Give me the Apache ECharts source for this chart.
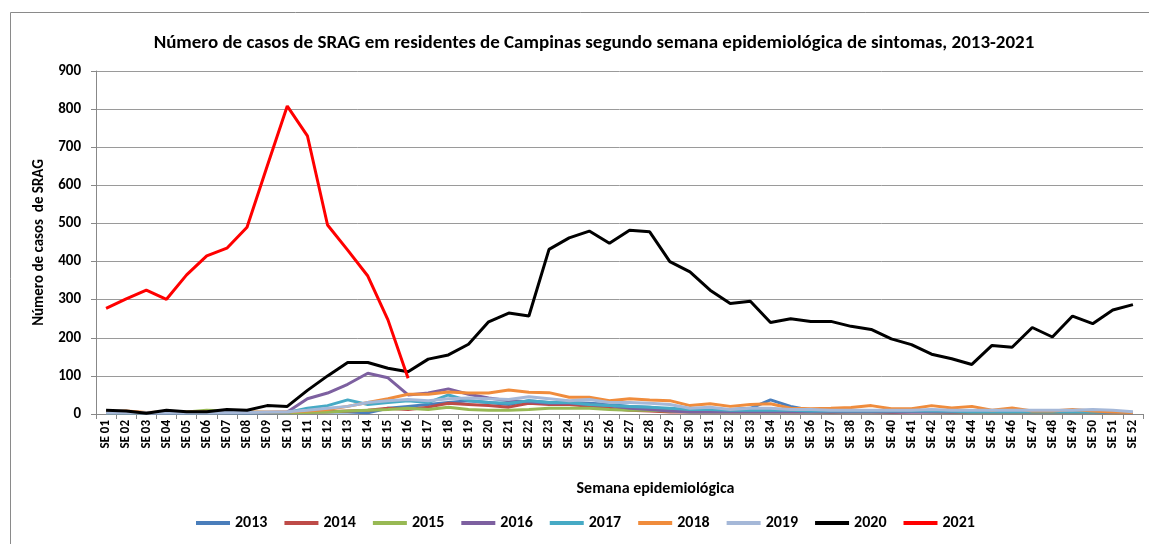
<!DOCTYPE html>
<html>
<head>
<meta charset="utf-8">
<script src="https://cdn.jsdelivr.net/npm/echarts@6/dist/echarts.min.js"></script>
<style>
  html, body { margin: 0; padding: 0; background: #fff; }
  #chart { width: 1149px; height: 544px; }
</style>
</head>
<body>
<div id="chart"></div>
<script>
// Semanas epidemiológicas SE 01 .. SE 52
const weeks = [];
for (let i = 1; i <= 52; i++) weeks.push('SE ' + String(i).padStart(2, '0'));

const yTicks = [0, 100, 200, 300, 400, 500, 600, 700, 800, 900];

const years = ['2013', '2014', '2015', '2016', '2017', '2018', '2019', '2020', '2021'];
const yearColors = ['#4A7EBB', '#BE4B48', '#98B954', '#7D60A0', '#46AAC5', '#F08C3C', '#A5B8D8', '#000000', '#FF0000'];

const cases2013 = [4, 3, 3, 3, 3, 4, 4, 3, 3, 3, 5, 5, 5, 3, 15, 20, 25, 30, 35, 30, 25, 35, 30, 30, 28, 25, 20, 18, 12, 10, 10, 12, 15, 37, 20, 10, 8, 10, 8, 7, 8, 10, 8, 6, 5, 5, 5, 5, 5, 5, 5, 3];
const cases2014 = [5, 6, 3, 4, 4, 5, 5, 4, 3, 4, 5, 6, 8, 10, 15, 12, 18, 28, 25, 22, 18, 28, 25, 25, 20, 15, 10, 8, 5, 5, 6, 5, 5, 6, 5, 5, 4, 5, 5, 4, 5, 5, 4, 4, 4, 5, 4, 4, 4, 4, 3, 3];
const cases2015 = [3, 4, 3, 5, 5, 10, 8, 5, 4, 3, 4, 5, 8, 10, 12, 15, 12, 18, 12, 10, 10, 12, 15, 15, 15, 12, 10, 10, 8, 5, 5, 5, 5, 5, 5, 5, 5, 5, 5, 6, 8, 5, 5, 4, 4, 4, 4, 4, 4, 4, 3, 3];
const cases2016 = [3, 3, 3, 3, 3, 3, 3, 3, 4, 5, 40, 55, 78, 107, 95, 50, 55, 66, 52, 42, 35, 32, 28, 28, 25, 22, 15, 12, 8, 5, 6, 5, 5, 5, 5, 5, 5, 5, 5, 5, 5, 5, 5, 5, 5, 5, 5, 5, 5, 5, 4, 3];
const cases2017 = [3, 3, 3, 3, 3, 3, 3, 3, 3, 4, 15, 22, 37, 25, 30, 35, 30, 50, 35, 30, 28, 35, 30, 30, 25, 22, 20, 18, 15, 12, 12, 10, 10, 10, 10, 8, 8, 8, 8, 8, 8, 8, 7, 6, 6, 6, 6, 6, 6, 5, 5, 4];
const cases2018 = [5, 8, 4, 5, 5, 5, 6, 5, 5, 5, 8, 12, 20, 30, 40, 52, 52, 58, 55, 55, 63, 57, 56, 44, 44, 35, 40, 37, 35, 22, 27, 20, 25, 27, 15, 14, 15, 17, 22, 14, 14, 22, 16, 20, 10, 16, 8, 8, 12, 8, 5, 4];
const cases2019 = [3, 3, 3, 3, 3, 3, 4, 4, 5, 6, 10, 15, 20, 30, 35, 38, 35, 40, 42, 40, 38, 45, 40, 35, 38, 30, 30, 28, 25, 15, 18, 12, 15, 15, 12, 12, 10, 10, 10, 10, 10, 12, 10, 10, 10, 10, 10, 10, 10, 12, 10, 6];
const cases2020 = [10, 8, 2, 10, 6, 6, 12, 10, 22, 20, 62, 100, 135, 135, 120, 111, 144, 155, 183, 242, 265, 257, 432, 462, 480, 448, 482, 478, 400, 373, 325, 290, 296, 240, 250, 243, 243, 230, 222, 197, 182, 157, 145, 130, 180, 175, 227, 202, 257, 237, 273, 287];
const cases2021 = [277, 302, 325, 301, 365, 415, 435, 490, 650, 808, 730, 496, 430, 362, 247, 94];

const seriesData = [cases2013, cases2014, cases2015, cases2016, cases2017, cases2018, cases2019, cases2020, cases2021];

const FONT = 'Carlito, "Liberation Sans Narrow", "DejaVu Sans Condensed", "Open Sans", sans-serif';

const chart = echarts.init(document.getElementById('chart'), null, { renderer: 'canvas' });

chart.setOption({
  backgroundColor: '#ffffff',
  animation: false,
  title: {
    text: 'Número de casos de SRAG em residentes de Campinas segundo semana epidemiológica de sintomas, 2013-2021',
    left: 589,
    textAlign: 'center',
    top: 29,
    textStyle: { fontFamily: FONT, fontSize: 19, fontWeight: 'bold', color: '#000' }
  },
  graphic: [
    {
      type: 'rect',
      shape: { x: 10.5, y: 12.5, width: 1160, height: 560 },
      style: { fill: 'none', stroke: '#8a8a8a', lineWidth: 1 },
      silent: true
    }
  ],
  legend: {
    data: years,
    left: 191,
    top: 510,
    icon: 'rect',
    itemWidth: 34,
    itemHeight: 4,
    itemGap: 17,
    textStyle: { fontFamily: FONT, fontSize: 16, fontWeight: 'bold', color: '#000' }
  },
  grid: { left: 96, right: 6, top: 71, bottom: 130, containLabel: false },
  xAxis: {
    type: 'category',
    data: weeks,
    boundaryGap: true,
    name: 'Semana epidemiológica',
    nameLocation: 'middle',
    nameGap: 67,
    nameTextStyle: { fontFamily: FONT, fontSize: 16, fontWeight: 'bold', color: '#000', padding: [0, 0, 0, 72] },
    axisLine: { lineStyle: { color: '#888', width: 1 } },
    axisTick: { show: true, length: 5, alignWithLabel: false, lineStyle: { color: '#888' } },
    axisLabel: {
      rotate: 90,
      interval: 0,
      margin: 6,
      fontFamily: FONT,
      fontSize: 13,
      fontWeight: 'bold',
      color: '#000'
    },
    splitLine: { show: false }
  },
  yAxis: {
    type: 'value',
    min: yTicks[0],
    max: yTicks[yTicks.length - 1],
    interval: 100,
    name: 'Número de casos  de SRAG',
    nameLocation: 'middle',
    nameGap: 49,
    nameRotate: 90,
    nameTextStyle: { fontFamily: FONT, fontSize: 15, fontWeight: 'bold', color: '#000' },
    axisLine: { show: true, lineStyle: { color: '#888', width: 1 } },
    axisTick: { show: true, length: 5, lineStyle: { color: '#888' } },
    axisLabel: { margin: 15, fontFamily: FONT, fontSize: 15, fontWeight: 'bold', color: '#000' },
    splitLine: { show: true, lineStyle: { color: '#9a9a9a', width: 1 } }
  },
  series: years.map((y, i) => ({
    name: y,
    type: 'line',
    data: seriesData[i],
    symbol: 'none',
    smooth: false,
    z: 2 + i,
    color: yearColors[i],
    lineStyle: { width: 3, color: yearColors[i] }
  }))
});
</script>
</body>
</html>
